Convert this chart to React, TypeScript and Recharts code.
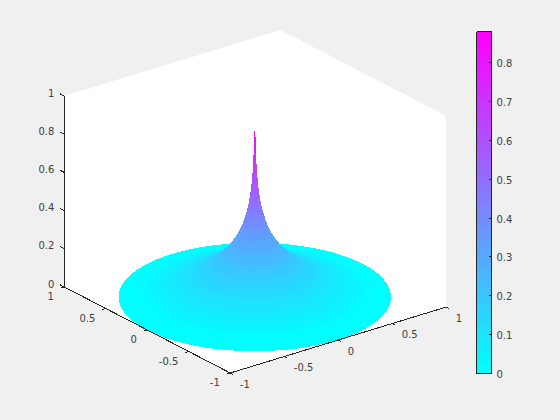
import React from 'react';
import { ComposedChart, Area, XAxis, YAxis, ReferenceLine, ReferenceDot } from 'recharts';

// surface of revolution, profile
const radii = [
  1.0, 0.95, 0.9, 0.85, 0.8, 0.75, 0.7, 0.65, 0.6, 0.55, 0.5, 0.48, 0.46, 0.44, 0.42, 0.4, 0.38, 0.36, 0.34, 0.32, 0.3,
  0.28, 0.26, 0.245, 0.23, 0.215, 0.2, 0.185, 0.17, 0.16, 0.15, 0.14, 0.13, 0.12, 0.11, 0.1, 0.092, 0.085, 0.078, 0.072,
  0.066, 0.06, 0.055, 0.05, 0.045, 0.041, 0.037, 0.033, 0.03, 0.027, 0.023, 0.019, 0.016, 0.013, 0.011, 0.009, 0.0075,
  0.006, 0.005, 0.004,
];
const heights = [
  0, 0.008, 0.017, 0.026, 0.036, 0.047, 0.059, 0.071, 0.084, 0.098, 0.112, 0.118, 0.125, 0.132, 0.139, 0.147, 0.155,
  0.163, 0.172, 0.182, 0.192, 0.203, 0.215, 0.224, 0.234, 0.245, 0.256, 0.269, 0.282, 0.292, 0.302, 0.313, 0.324,
  0.337, 0.351, 0.366, 0.379, 0.392, 0.406, 0.419, 0.433, 0.447, 0.461, 0.476, 0.493, 0.508, 0.524, 0.542, 0.557,
  0.574, 0.6, 0.63, 0.657, 0.69, 0.717, 0.749, 0.778, 0.813, 0.842, 0.868,
];
const uTicks = [1, 0.5, 0, -0.5, -1];
const vTicks = [-1, -0.5, 0, 0.5, 1];
const zTicks = [0, 0.2, 0.4, 0.6, 0.8, 1];
const colorbarTicks = [0, 0.1, 0.2, 0.3, 0.4, 0.5, 0.6, 0.7, 0.8];
const colorMax = 0.88;
const colorLevels = 64;

const INK = '#262626';
const TEXT = '#404040';
const FONT = '"DejaVu Sans", sans-serif';

// linear 3D -> figure projection, calibrated on the box corners
const project = (u: number, v: number, z: number) => ({
  x: 255.3 - 83 * u + 108 * v,
  y: 297 - 43 * u - 33 * v - 191 * z,
});

const levelColor = (value: number) => {
  const level = Math.min(colorLevels - 1, Math.floor((value / colorMax) * colorLevels));
  const t = level / (colorLevels - 1);
  return `rgb(${Math.round(t * 255)},${Math.round((1 - t) * 255)},255)`;
};

// in this view a ring projects to an axis-aligned ellipse; the top edge also
// follows the silhouette up to the next ring, so the steep spike stays solid
const ringWidth = Math.hypot(83, 108);
const ringHeight = Math.hypot(43, 33);
const ringSteps = 64;
const ringPoints = (i: number) => {
  const r = radii[i];
  const c = project(0, 0, heights[i]);
  const nextR = i + 1 < radii.length ? radii[i + 1] : 0;
  const nextY = i + 1 < radii.length ? project(0, 0, heights[i + 1]).y : c.y;
  const pts = [];
  for (let k = 0; k <= ringSteps; k++) {
    const a = (Math.PI * k) / ringSteps;
    const half = r * ringHeight * Math.sin(a);
    const off = Math.abs(r * Math.cos(a));
    const slope = off <= nextR ? nextY : nextY + ((c.y - nextY) * (off - nextR)) / (r - nextR);
    pts.push({ x: c.x - 0.5 - r * ringWidth * Math.cos(a), range: [Math.min(c.y - half, slope), c.y + half] });
  }
  return pts;
};

// white back walls and floor of the axes box
const edgeY = (a: { x: number; y: number }, b: { x: number; y: number }, x: number) =>
  a.y + ((b.y - a.y) * (x - a.x)) / (b.x - a.x);
const A = project(1, -1, 0);
const B = project(-1, -1, 0);
const C = project(-1, 1, 0);
const topA = project(1, -1, 1);
const topC = project(-1, 1, 1);
const topD = project(1, 1, 1);
const boxData = [A.x, B.x, topD.x, C.x].map((x) => ({
  x,
  range: [
    x <= topD.x ? edgeY(topA, topD, x) : edgeY(topD, topC, x),
    x <= B.x ? edgeY(A, B, x) : edgeY(B, C, x),
  ],
}));

const tickLabel = (key: string, text: string, x: number, y: number, position: 'left' | 'right') => (
  <ReferenceDot
    key={key}
    x={x}
    y={y}
    r={0}
    fill="none"
    stroke="none"
    ifOverflow="visible"
    label={{ value: text, position, offset: 0, fontSize: 10, fill: TEXT, fontFamily: FONT }}
  />
);

const segment = (key: string, p: { x: number; y: number }, q: { x: number; y: number }) => (
  <ReferenceLine key={key} segment={[p, q]} stroke={INK} strokeWidth={1} ifOverflow="visible" />
);

const SurfaceAxes = () => (
  <ComposedChart width={560} height={420} margin={{ top: 0, right: 0, bottom: 0, left: 0 }} data={boxData}>
    <XAxis type="number" dataKey="x" domain={[0, 560]} hide />
    <YAxis type="number" domain={[0, 420]} reversed hide />
    <Area data={boxData} dataKey="range" fill="#ffffff" fillOpacity={1} stroke="none" dot={false} activeDot={false} isAnimationActive={false} />
    {radii.map((r, i) => (
      <Area
        key={r}
        data={ringPoints(i)}
        dataKey="range"
        fill={levelColor(heights[i])}
        fillOpacity={1}
        stroke="none"
        dot={false}
        activeDot={false}
        isAnimationActive={false}
      />
    ))}
    {segment('axis-u', A, B)}
    {segment('axis-v', B, C)}
    {segment('axis-z', A, topA)}
    {uTicks.map((u) => segment(`tick-u${u}`, project(u, -1, 0), project(u, -1.035, 0)))}
    {vTicks.map((v) => segment(`tick-v${v}`, project(-1, v, 0), project(-1.035, v, 0)))}
    {zTicks.map((z) => segment(`tick-z${z}`, project(1, -1, z), project(1.05, -1, z)))}
    {uTicks.map((u) => {
      const p = project(u, -1, 0);
      return tickLabel(`label-u${u}`, String(u), p.x - 10.5, p.y + 9.5, 'left');
    })}
    {vTicks.map((v) => {
      const p = project(-1, v, 0);
      return tickLabel(`label-v${v}`, String(v), p.x + 9.5, p.y + 11, 'right');
    })}
    {zTicks.map((z) => {
      const p = project(1, -1, z);
      return tickLabel(`label-z${z}`, String(z), p.x - 10, p.y - 3, 'left');
    })}
  </ComposedChart>
);

const colorbarSteps = Array.from({ length: colorLevels }, (_, i) => i);

const Colorbar = () => (
  <ComposedChart width={84} height={420} margin={{ top: 31.5, right: 0, bottom: 46.5, left: 1.5 }} data={[{ x: 0 }, { x: 1 }]}>
    <XAxis type="number" dataKey="x" domain={[0, 1]} hide />
    <YAxis
      type="number"
      orientation="right"
      width={67.5}
      domain={[0, colorMax]}
      ticks={colorbarTicks}
      interval={0}
      axisLine={false}
      tickSize={-3}
      tickMargin={8}
      tickLine={{ stroke: INK }}
      tick={{ fill: TEXT, fontSize: 10, fontFamily: FONT, dy: 1 }}
    />
    {colorbarSteps.map((i) => (
      <Area
        key={i}
        data={[
          { x: 0, range: [(i / colorLevels) * colorMax, ((i + 1) / colorLevels) * colorMax] },
          { x: 1, range: [(i / colorLevels) * colorMax, ((i + 1) / colorLevels) * colorMax] },
        ]}
        dataKey="range"
        fill={levelColor(((i + 0.5) / colorLevels) * colorMax)}
        fillOpacity={1}
        stroke="none"
        dot={false}
        activeDot={false}
        isAnimationActive={false}
      />
    ))}
    <ReferenceLine segment={[{ x: 0, y: 0 }, { x: 1, y: 0 }]} stroke={INK} />
    <ReferenceLine segment={[{ x: 0, y: colorMax }, { x: 1, y: colorMax }]} stroke={INK} />
    <ReferenceLine segment={[{ x: 0, y: 0 }, { x: 0, y: colorMax }]} stroke={INK} />
    <ReferenceLine segment={[{ x: 1, y: 0 }, { x: 1, y: colorMax }]} stroke={INK} />
  </ComposedChart>
);

export default function App() {
  return (
    <div
      style={{
        position: 'absolute',
        left: 0,
        top: 0,
        width: 560,
        height: 420,
        background: '#f0f0f0',
        shapeRendering: 'crispEdges',
      }}
    >
      <SurfaceAxes />
      <div style={{ position: 'absolute', left: 475, top: 0 }}>
        <Colorbar />
      </div>
    </div>
  );
}
